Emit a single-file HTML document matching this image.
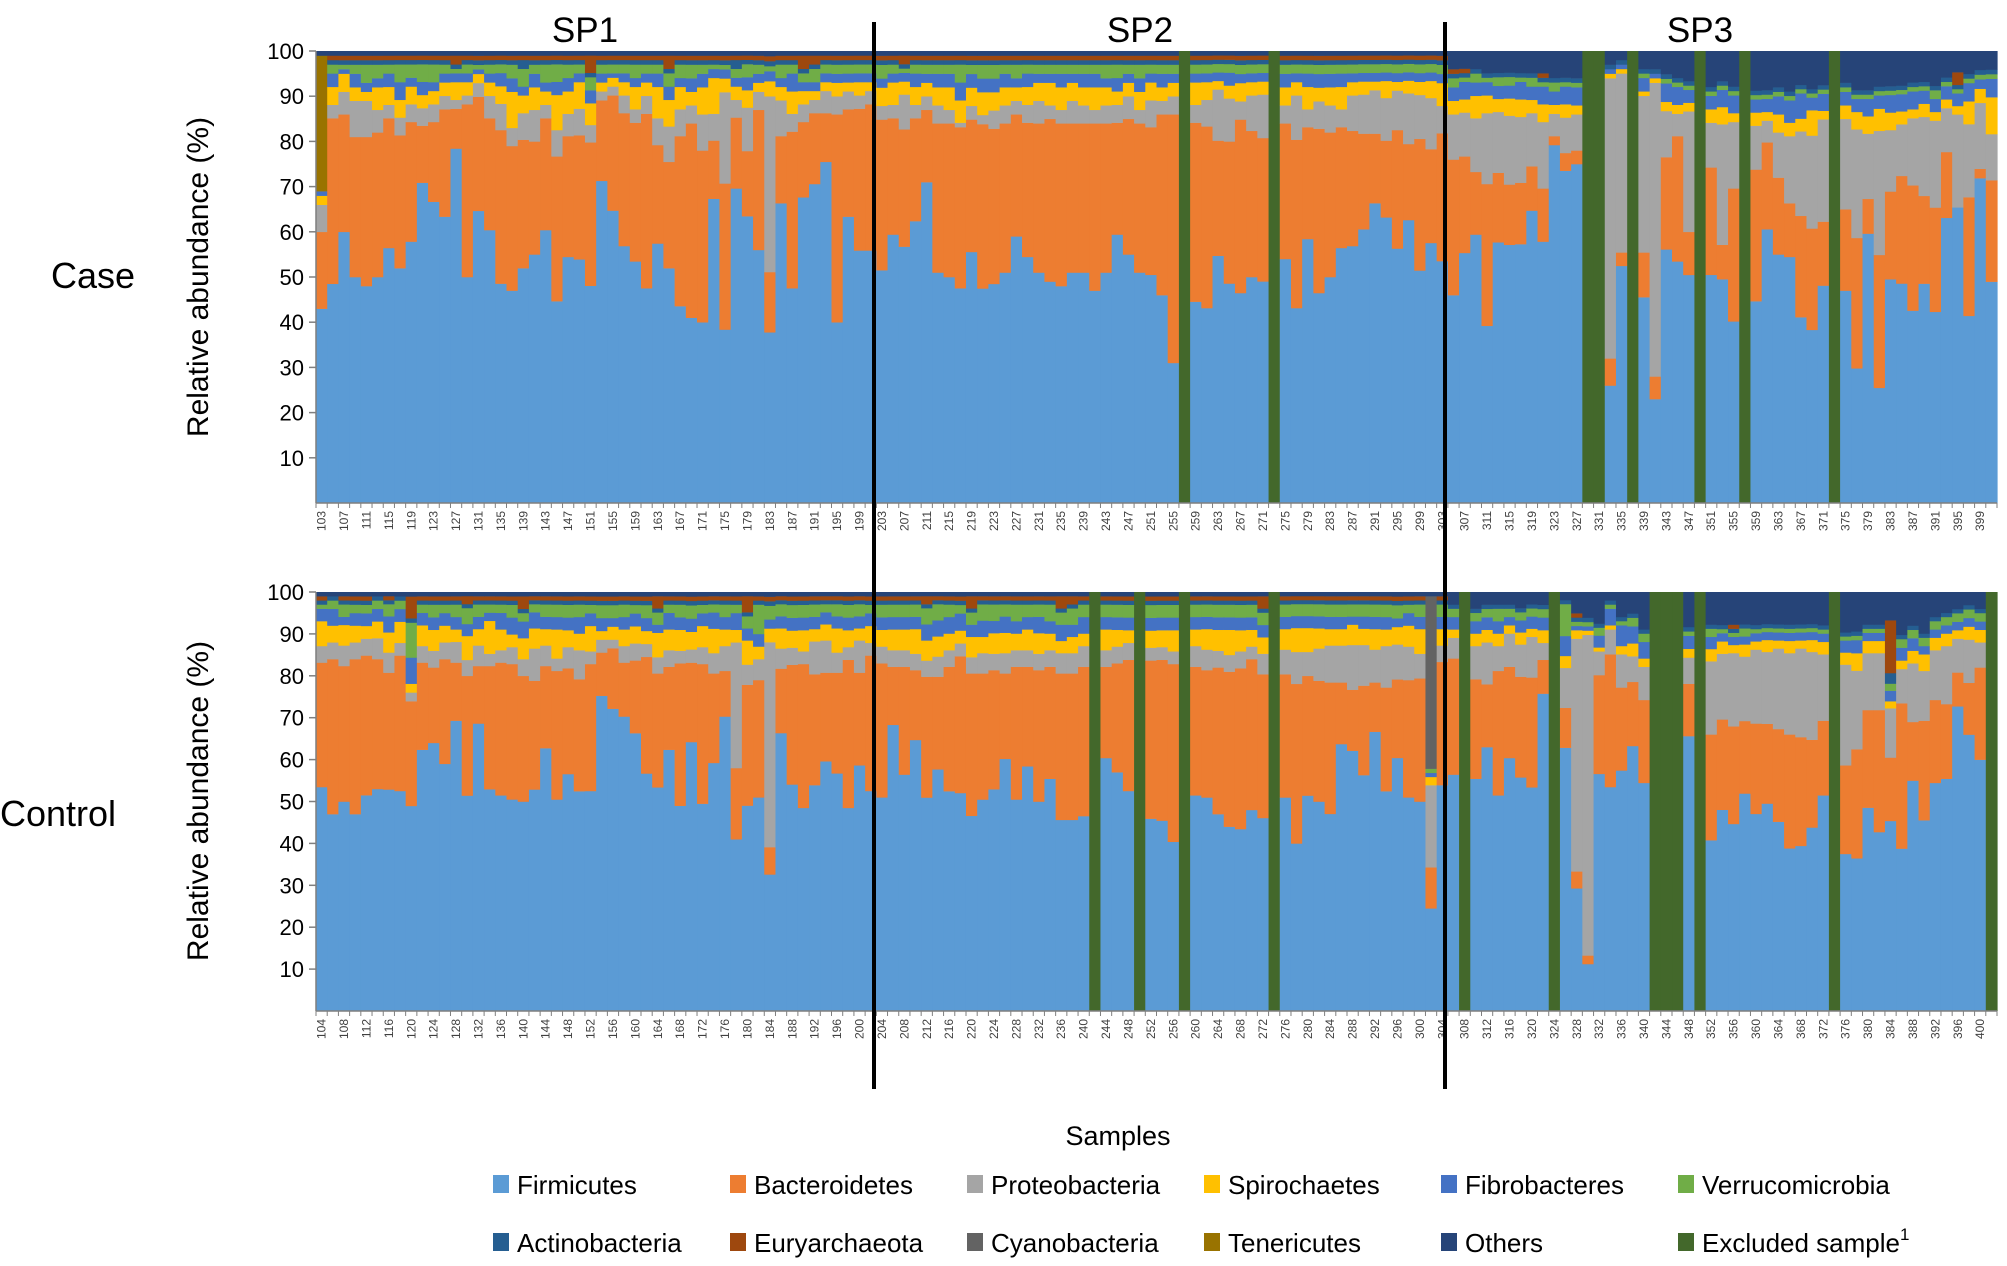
<!DOCTYPE html>
<html><head><meta charset="utf-8"><style>
html,body{margin:0;padding:0;background:#fff;}
svg{display:block;font-family:"Liberation Sans",sans-serif;}
</style></head><body>
<svg id="chart" width="2007" height="1266" viewBox="0 0 2007 1266" xmlns="http://www.w3.org/2000/svg">
<g id="plots"></g>
<text x="585" y="42" font-size="35" text-anchor="middle">SP1</text>
<text x="1140" y="42" font-size="35" text-anchor="middle">SP2</text>
<text x="1700" y="42" font-size="35" text-anchor="middle">SP3</text>
<text x="51" y="288" font-size="36">Case</text>
<text x="0" y="826" font-size="36">Control</text>
<text transform="translate(208,277) rotate(-90)" font-size="30" text-anchor="middle">Relative abundance (%)</text>
<text transform="translate(208,801) rotate(-90)" font-size="30" text-anchor="middle">Relative abundance (%)</text>
<text x="1118" y="1145" font-size="27" text-anchor="middle">Samples</text>
<g id="legend"></g>
<line x1="874" y1="22" x2="874" y2="1089" stroke="#000" stroke-width="4"/>
<line x1="1445" y1="22" x2="1445" y2="1089" stroke="#000" stroke-width="4"/>
</svg>
<script>
const taxa = ["Firmicutes","Bacteroidetes","Proteobacteria","Spirochaetes","Fibrobacteres","Verrucomicrobia","Actinobacteria","Euryarchaeota","Cyanobacteria","Tenericutes","Others"];
const colors = ["#5b9bd5","#ed7d31","#a5a5a5","#ffc000","#4472c4","#70ad47","#255e91","#9e480e","#636363","#997300","#264478"];
const excludedColor = "#43682b";
const yTicks = [10,20,30,40,50,60,70,80,90,100];

// ---------- CASE (samples 103..401, odd) ----------
const caseSamples = [];
for (let s = 103; s <= 401; s += 2) caseSamples.push(s);
const caseExcluded = [257,273,329,331,337,349,357,373];
const caseFirmicutes = [43,49,60,50,48,50,57,53,59,73,68,64,80,51,64,61,50,47,53,55,61,46,55,55,50,72,66,58,54,48,58,53,44,41,40,68,38,71,66,56,34,67,48,69,72,77,40,64,57,57,
 51,60,59,63,71,51,50,48,55,47,48,51,59,55,51,49,48,51,51,47,51,60,55,51,
 51,46,31,0,45,44,58,51,46,51,51,0,54,44,59,46,50,57,58,63,69,67,58,67,53,61,53,
 46,57,60,40,60,60,59,66,59,80,75,75,0,0,26,53,0,46,23,55,54,53,0,51,52,41,0,46,63,55,55,44,41,51,0,47,31,62,26,51,51,43,50,44,65,70,41,69,48];
const caseBacteroidetes = [17,37,26,31,33,32,29,30,27,13,18,24,9,39,25,25,35,32,29,25,25,33,27,28,33,18,26,30,31,39,22,24,38,43,38,13,32,16,15,31,12,15,35,17,16,11,46,24,32,33,
 33,26,27,23,16,33,34,36,29,36,34,33,27,30,33,36,36,33,33,37,33,25,30,33,
 33,40,55,0,40,41,27,33,38,33,33,0,30,38,25,36,32,27,26,22,16,18,27,18,30,22,28,
 30,22,14,32,16,14,14,10,12,2,4,3,0,0,6,3,0,10,5,20,28,10,0,24,8,30,0,30,20,17,12,24,24,15,0,18,30,8,30,20,25,28,20,24,15,0,26,2,22];
const caseProteobacteria = [6,3,5,8,8,5,3,4,4,4,4,3,2,2,3,5,6,4,6,7,3,6,5,6,4,2,2,4,3,4,6,8,6,4,8,6,20,4,10,4,35,8,4,4,3,5,4,4,3,3,
 3,3,8,3,3,4,3,1,3,2,4,4,3,4,5,3,3,5,4,3,4,4,5,3,
 6,3,4,0,4,6,12,10,4,8,10,0,4,10,4,6,6,4,8,9,10,10,9,12,10,12,6,
 10,10,12,16,14,16,15,12,15,5,8,8,0,0,62,40,0,35,65,10,5,28,0,10,28,15,0,10,5,10,15,20,22,24,0,20,25,15,28,14,12,15,18,20,10,22,16,14,10];
const caseSpirochaetes = [2,4,4,3,2,5,4,4,4,3,3,3,4,3,2,3,4,8,4,5,3,8,5,6,5,2,2,3,5,3,7,6,5,3,6,8,3,3,4,2,3,3,5,3,2,2,3,2,3,2,
 4,5,3,4,3,4,5,5,4,5,4,4,3,4,4,5,5,4,4,5,4,3,3,4,
 4,3,3,0,5,4,2,3,4,3,3,0,4,3,5,3,4,5,3,3,2,4,2,3,3,4,5,
 3,3,5,4,3,4,4,3,4,2,3,2,0,0,1,1,0,1,1,2,2,2,0,3,4,2,0,3,2,4,3,3,6,2,0,3,4,4,5,4,3,2,3,2,2,2,5,3,8];
const caseFibrobacteres = [1,3,1,3,2,2,3,4,2,3,2,2,2,2,1,2,3,3,2,3,2,3,3,2,3,2,1,2,2,2,3,3,2,3,3,2,2,2,3,2,2,2,4,2,2,2,2,2,2,2,
 2,2,2,3,2,3,3,4,3,3,3,3,2,3,2,2,3,2,3,3,2,3,2,3,
 2,3,2,0,2,2,2,3,2,2,2,0,3,2,3,3,3,3,2,2,2,2,2,2,2,2,2,
 3,4,3,3,3,3,4,3,4,3,4,4,0,0,1,1,0,3,1,4,4,3,0,3,4,4,0,3,3,4,5,6,3,4,0,3,3,4,3,4,4,4,3,3,3,3,4,2,4];
const caseVerrucomicrobia = [0,2,1,2,4,3,2,4,3,4,4,2,1,2,1,2,2,3,4,2,4,4,3,2,3,2,2,2,3,2,2,3,3,3,2,1,1,2,3,2,1,3,2,2,3,2,2,2,2,2,
 3,2,1,2,2,2,2,4,2,3,3,2,3,2,2,2,2,2,2,2,3,3,2,3,
 2,2,2,0,2,2,2,2,2,2,2,0,2,2,2,2,2,2,2,2,2,2,2,2,2,2,2,
 2,1,2,1,2,2,1,2,1,2,1,1,0,0,0,0,0,1,0,1,1,1,0,1,1,1,0,1,1,1,1,1,1,1,0,1,1,1,1,1,1,1,1,2,1,1,1,1,1];
const caseActinobacteria = [0,1,1,1,1,1,1,1,1,1,1,1,1,1,1,1,1,1,2,1,1,1,1,1,1,1,1,1,1,1,1,1,1,1,1,1,1,2,1,1,1,1,1,1,1,1,1,1,1,1,
 1,1,1,1,1,1,1,1,1,1,1,1,1,1,1,1,1,1,1,1,1,1,1,1,
 1,1,1,0,1,1,1,1,1,1,1,0,1,1,1,1,1,1,1,1,1,1,1,1,1,1,1,
 1,1,1,1,1,1,1,1,1,1,1,1,0,0,1,1,0,1,1,1,1,1,0,1,1,1,0,1,1,1,1,1,1,1,0,1,1,1,1,1,1,1,1,1,1,1,1,1,1];
const caseEuryarchaeota = [0,1,1,1,1,1,1,1,1,1,1,1,2,1,1,1,1,1,1,1,1,1,1,1,4,1,1,1,1,1,1,3,1,1,1,1,1,1,1,1,1,1,1,3,2,1,1,1,1,1,
 1,1,2,1,1,1,1,1,1,1,1,1,1,1,1,1,1,1,1,1,1,1,1,1,
 1,1,1,0,1,1,1,1,1,1,1,0,1,1,1,1,1,1,1,1,1,1,1,1,1,1,1,
 1,1,0,0,0,0,0,0,1,0,0,0,0,0,0,0,0,0,0,0,0,0,0,0,0,0,0,0,0,0,0,0,0,0,0,0,0,0,0,0,0,0,0,0,0,3,0,0,0];
const caseCyanobacteria = new Array(150).fill(0);
const caseTenericutes = [30].concat(new Array(149).fill(0));
const caseOthers = [1,1,1,1,1,1,1,1,1,1,1,1,1,1,1,1,1,1,1,1,1,1,1,1,1,1,1,1,1,1,1,1,1,1,1,1,1,1,1,1,1,1,1,1,1,1,1,1,1,1,
 1,1,1,1,1,1,1,1,1,1,1,1,1,1,1,1,1,1,1,1,1,1,1,1,
 1,1,1,0,1,1,1,1,1,1,1,0,1,1,1,1,1,1,1,1,1,1,1,1,1,1,1,
 4,4,4,5,5,5,5,5,5,6,6,6,0,0,3,2,0,4,4,5,6,7,0,8,7,8,0,9,9,8,9,8,9,8,0,7,9,9,8,8,8,7,7,8,6,5,5,4,4];

// ---------- CONTROL (samples 104..402, even) ----------
const controlSamples = [];
for (let s = 104; s <= 402; s += 2) controlSamples.push(s);
const controlExcluded = [242,250,258,274,308,324,342,344,346,350,374,402];
const controlFirmicutes = [54,47,51,47,51,53,55,52,47,63,64,59,70,54,70,54,52,50,50,55,64,51,56,53,52,73,70,71,65,55,55,63,49,61,49,61,71,41,51,51,30,69,53,48,55,62,59,48,61,52,
 51,69,57,66,53,60,53,51,48,52,54,62,51,59,51,56,47,47,47,0,61,57,52,0,45,45,40,0,52,52,47,44,43,48,47,0,52,42,54,52,48,65,64,58,68,53,58,51,51,25,55,
 57,0,56,63,52,61,58,55,75,0,66,29,11,60,54,58,62,55,0,0,0,63,0,42,49,46,54,48,52,47,40,41,46,52,0,39,35,50,44,54,38,55,46,55,56,72,64,60,0];
const controlBacteroidetes = [30,37,33,37,33,31,29,32,24,21,18,25,14,30,14,30,32,32,30,27,20,31,25,27,30,10,14,13,17,27,28,20,34,18,33,22,11,17,30,28,6,16,28,34,27,22,25,35,23,32,
 32,14,26,17,30,23,30,32,35,31,29,21,32,24,32,27,36,36,36,0,22,26,31,0,37,38,42,0,31,31,35,37,38,36,35,0,30,40,30,30,32,15,15,22,12,25,18,28,30,10,30,
 28,0,24,15,30,22,25,27,8,0,10,4,2,25,32,20,15,20,0,0,0,12,0,26,22,24,18,22,20,23,28,27,22,18,0,22,25,24,30,18,34,14,24,20,18,8,12,22,0];
const controlProteobacteria = [4,4,5,4,4,5,5,3,2,4,4,4,5,4,5,3,3,4,4,8,5,3,5,7,3,3,2,4,4,3,4,4,3,3,4,5,6,30,5,5,45,5,4,3,8,8,5,3,8,3,
 4,4,4,4,4,5,4,3,4,5,4,5,4,4,4,4,5,5,5,0,4,4,4,0,3,3,3,0,5,5,4,4,4,3,5,0,6,8,6,8,9,9,11,10,8,10,8,8,6,20,4,
 5,0,8,10,6,8,8,10,4,0,10,55,75,6,6,8,6,8,0,0,0,6,0,18,16,18,16,18,18,20,20,22,22,16,0,25,18,14,14,14,8,14,12,12,14,8,10,6,0];
const controlSpirochaetes = [6,4,5,4,3,4,5,5,2,5,5,4,3,6,4,8,5,3,5,5,4,7,4,4,6,2,3,4,4,3,6,5,5,4,5,6,4,3,6,3,3,5,4,5,3,4,6,4,3,4,
 4,5,5,6,5,5,4,3,5,4,5,5,4,5,5,4,3,4,3,0,5,4,3,0,4,4,5,0,4,5,5,6,5,4,4,0,5,6,6,5,4,4,5,4,5,4,4,5,6,2,4,
 2,0,3,3,3,2,3,2,3,0,3,2,1,1,1,2,3,2,0,0,0,2,0,3,3,2,3,2,3,2,3,2,3,3,0,3,4,3,3,2,2,3,4,3,3,2,3,3,0];
const controlFibrobacteres = [3,4,2,3,3,3,4,3,6,3,3,3,3,3,3,2,4,4,4,4,3,3,3,4,3,3,2,3,3,3,2,4,3,3,3,4,3,4,3,3,2,3,3,3,3,3,3,3,3,3,
 3,3,3,3,4,4,4,4,3,4,3,4,3,3,4,3,4,3,4,0,3,3,3,0,3,3,3,0,3,3,3,3,3,3,3,0,3,3,3,3,3,3,2,3,3,3,2,3,3,1,3,
 3,0,3,3,3,2,3,3,3,0,5,1,1,3,4,5,4,4,0,0,0,3,0,3,2,2,2,2,2,2,2,2,2,2,0,3,3,2,2,3,3,3,2,2,2,2,2,2,0];
const controlVerrucomicrobia = [1,2,3,2,2,2,3,2,8,2,3,2,3,4,3,2,2,3,2,2,3,3,3,3,2,3,3,3,2,3,3,2,3,3,2,2,3,2,3,7,3,3,3,3,3,2,3,3,3,2,
 3,3,3,3,4,4,3,2,3,4,4,3,4,3,3,4,3,4,3,0,3,3,3,0,3,3,3,0,3,3,3,3,3,3,3,0,3,3,3,3,3,3,3,3,3,3,3,2,3,1,3,
 2,0,2,2,3,2,2,2,2,0,8,1,1,2,1,1,2,2,0,0,0,1,0,2,1,1,2,1,1,1,1,1,1,1,0,1,1,1,1,2,2,2,2,2,2,2,2,2,0];
const controlActinobacteria = [1,1,1,1,1,1,1,1,1,1,1,1,1,1,1,1,1,1,1,1,1,1,1,1,1,1,1,1,1,1,1,1,1,1,1,1,1,1,1,1,1,1,1,1,1,1,1,1,1,1,
 1,1,1,1,1,1,1,1,1,1,1,1,1,1,1,1,1,1,1,0,1,1,1,0,1,1,1,0,1,1,1,1,1,1,1,0,1,1,1,1,1,1,1,1,1,1,1,1,1,0,1,
 1,0,1,1,1,1,1,1,1,0,1,1,1,1,1,1,1,1,0,0,0,1,0,1,1,1,1,1,1,1,1,1,1,1,0,1,1,1,1,3,1,1,1,1,1,1,1,1,0];
const controlEuryarchaeota = [1,0,1,1,1,0,1,0,5,1,1,1,1,2,1,1,1,1,3,1,1,1,1,1,1,1,1,1,1,1,3,1,1,1,1,1,1,1,4,1,1,1,1,1,1,1,1,1,1,1,
 1,1,1,1,2,1,1,1,3,1,1,1,1,1,1,1,3,2,1,0,1,1,1,0,1,1,1,0,1,1,1,1,1,1,3,0,1,1,1,1,1,1,1,1,1,1,1,1,1,0,1,
 0,0,0,0,0,0,0,0,0,0,0,1,0,0,0,0,0,0,0,0,0,0,0,0,0,1,0,0,0,0,0,0,0,0,0,0,0,0,0,15,0,0,0,0,0,0,0,0,0];
const controlCyanobacteria = new Array(99).fill(0).concat([42]).concat(new Array(50).fill(0));
const controlTenericutes = new Array(150).fill(0);
const controlOthers = [1,1,1,1,1,1,1,1,1,1,1,1,1,1,1,1,1,1,1,1,1,1,1,1,1,1,1,1,1,1,1,1,1,1,1,1,1,1,1,1,1,1,1,1,1,1,1,1,1,1,
 1,1,1,1,1,1,1,1,1,1,1,1,1,1,1,1,1,1,1,0,1,1,1,0,1,1,1,0,1,1,1,1,1,1,1,0,1,1,1,1,1,1,1,1,1,1,1,1,1,1,1,
 3,0,4,3,3,3,4,3,3,0,2,5,6,8,2,6,5,9,0,0,0,8,0,8,8,8,8,8,8,8,8,8,8,8,0,10,9,8,8,8,10,8,10,6,5,4,3,4,0];

const caseSeries = [caseFirmicutes,caseBacteroidetes,caseProteobacteria,caseSpirochaetes,caseFibrobacteres,caseVerrucomicrobia,caseActinobacteria,caseEuryarchaeota,caseCyanobacteria,caseTenericutes,caseOthers];
const controlSeries = [controlFirmicutes,controlBacteroidetes,controlProteobacteria,controlSpirochaetes,controlFibrobacteres,controlVerrucomicrobia,controlActinobacteria,controlEuryarchaeota,controlCyanobacteria,controlTenericutes,controlOthers];

const NS = "http://www.w3.org/2000/svg";
function mk(tag, attrs, parent) {
  const e = document.createElementNS(NS, tag);
  for (const k in attrs) e.setAttribute(k, attrs[k]);
  parent.appendChild(e);
  return e;
}
const root = document.getElementById("plots");

function drawPanel(name, samples, series, excluded, x0, x1, yTop, yBot) {
  const g = mk("g", {}, root);
  
  
  const n = samples.length;
  const bw = (x1 - x0) / n;
  const xScale = i => x0 + i * bw;
  const yScale = v => yBot - (v / 100) * (yBot - yTop);
  for (let i = 0; i < n; i++) {
    const s = samples[i];
    if (excluded.includes(s)) {
      const r = mk("rect", {x: xScale(i), y: yTop, width: bw + 0.6, height: yBot - yTop, fill: excludedColor}, g);
      
      
      continue;
    }
    let total = 0;
    for (let k = 0; k < series.length; k++) total += series[k][i];
    let cum = 0;
    for (let k = 0; k < series.length; k++) {
      const v = series[k][i] / total * 100;
      if (v <= 0) continue;
      const yb = yScale(cum), yt = yScale(cum + v);
      const r = mk("rect", {x: xScale(i), y: yt, width: bw + 0.6, height: yb - yt + 0.3, fill: colors[k]}, g);
      
      
      cum += v;
    }
  }
  // axes
  const ax = mk("line", {x1: x0, y1: yTop, x2: x0, y2: yBot, stroke: "#7f7f7f", "stroke-width": 1.5}, g);
  
  
  const bx = mk("line", {x1: x0, y1: yBot, x2: x1, y2: yBot, stroke: "#7f7f7f", "stroke-width": 1.5}, g);
  
  
  for (const t of yTicks) {
    const y = yScale(t);
    mk("line", {x1: x0 - 7, y1: y, x2: x0, y2: y, stroke: "#7f7f7f", "stroke-width": 1.5}, g);
    const tx = mk("text", {x: x0 - 12, y: y + 8, "font-size": 22, "text-anchor": "end", fill: "#000"}, g);
    tx.textContent = t;
    
    
  }
  for (let i = 0; i <= n; i++) {
    mk("line", {x1: xScale(i), y1: yBot, x2: xScale(i), y2: yBot + 5, stroke: "#7f7f7f", "stroke-width": 1}, g);
  }
  for (let i = 0; i < n; i += 2) {
    const cx = xScale(i) + bw / 2 + 4;
    const tl = mk("text", {transform: "translate(" + cx + "," + (yBot + 8) + ") rotate(-90)", "font-size": 12, "text-anchor": "end", fill: "#404040"}, g);
    tl.textContent = samples[i];
    
    
  }
}
drawPanel("case", caseSamples, caseSeries, caseExcluded, 316, 1997, 51, 503);
drawPanel("control", controlSamples, controlSeries, controlExcluded, 316, 1997, 592, 1011);

// legend
const legendItems = taxa.map((t, i) => ({label: t, color: colors[i]}));
const legendOrder = [0,1,2,3,4,5,6,7,8,9,10];
const lg = document.getElementById("legend");
const colX = [493,730,967,1204,1441,1678];
legendOrder.forEach((idx, j) => {
  const row = Math.floor(j / 6), col = j % 6;
  const x = colX[col], y = row === 0 ? 1185 : 1243;
  const sq = mk("rect", {x: x, y: y - 10, width: 16, height: 18, fill: legendItems[idx].color}, lg);
  
  
  const tx = mk("text", {x: x + 24, y: y + 9, "font-size": 26}, lg);
  tx.textContent = legendItems[idx].label;
  
  
});
{
  const x = colX[5], y = 1243;
  const sq = mk("rect", {x: x, y: y - 10, width: 16, height: 18, fill: excludedColor}, lg);
  
  
  const tx = mk("text", {x: x + 24, y: y + 9, "font-size": 26}, lg);
  tx.textContent = "Excluded sample";
  
  
  const sup = mk("tspan", {dy: -12, "font-size": 17}, tx);
  sup.textContent = "1";
}
</script>
</body></html>
